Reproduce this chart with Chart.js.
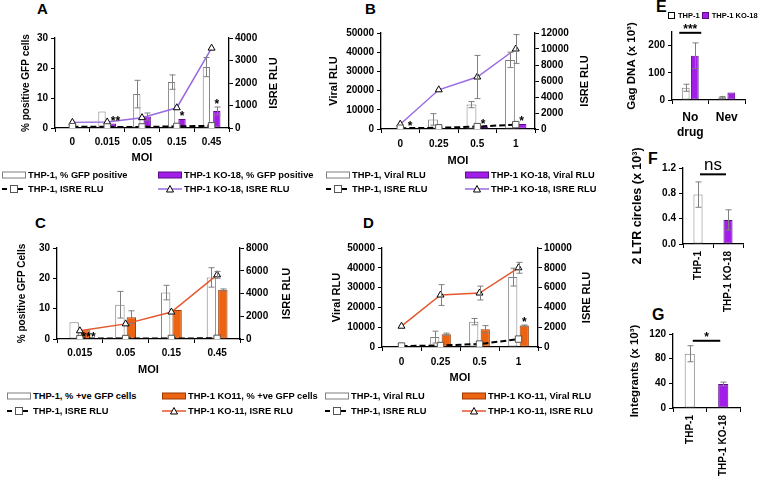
<!DOCTYPE html>
<html>
<head>
<meta charset="utf-8">
<script src="https://cdn.jsdelivr.net/npm/chart.js@4.4.1/dist/chart.umd.min.js"></script>
<style>
  body { margin: 0; background: #fff; }
  #fig { position: relative; width: 760px; height: 480px; overflow: hidden; font-family: "Liberation Sans", Arial, sans-serif; font-weight: bold; color: #000; }
  canvas { position: absolute; }
  .letter { position: absolute; font-weight: bold; font-size: 15px; line-height: 15px; }
  .leg { position: absolute; font-size: 9.3px; line-height: 12px; height: 12px; white-space: nowrap; display: flex; align-items: center; }
  .leg svg { margin-right: 2px; }
</style>
</head>
<body>
<div id="fig">
  <div class="letter" style="left:37px;top:1px">A</div>
  <div class="letter" style="left:365px;top:1px">B</div>
  <div class="letter" style="left:35px;top:215px">C</div>
  <div class="letter" style="left:363px;top:215px">D</div>
  <div class="letter" style="left:656px;top:-1px;font-size:16px">E</div>
  <div class="letter" style="left:648px;top:151px;font-size:16px">F</div>
  <div class="letter" style="left:652px;top:307px;font-size:16px">G</div>

  <canvas id="chartA" width="295" height="148" style="left:0;top:22px"></canvas>
  <canvas id="chartB" width="300" height="148" style="left:300px;top:22px"></canvas>
  <canvas id="chartC" width="300" height="150" style="left:0;top:232px"></canvas>
  <canvas id="chartD" width="300" height="160" style="left:300px;top:232px"></canvas>
  <canvas id="chartE" width="160" height="160" style="left:600px;top:0"></canvas>
  <canvas id="chartF" width="160" height="186" style="left:600px;top:135px"></canvas>
  <canvas id="chartG" width="160" height="162" style="left:600px;top:318px"></canvas>
</div>

<script>
// ---- data ----
const moiA = ['0', '0.015', '0.05', '0.15', '0.45'];
const gfpThpA = [0, 5.5, 11.3, 15.3, 20.3];
const gfpThpErrA = [0, 0, 4.6, 2.4, 3.2];
const gfpKo18A = [0, 1.5, 3.8, 3.0, 5.7];
const gfpKo18ErrA = [0, 0, 1.2, 0, 1.3];
const isreThpA = [60, 50, 50, 70, 100];
const isreKo18A = [250, 270, 460, 900, 3550];
const yTicksA = [0, 10, 20, 30];
const y1TicksA = [0, 1000, 2000, 3000, 4000];

const moiB = ['0', '0.25', '0.5', '1'];
const viralThpB = [0, 5000, 12700, 36000];
const viralThpErrB = [0, 3000, 1600, 4000];
const viralKo18B = [0, 300, 1300, 2600];
const isreThpB = [100, 150, 300, 550];
const isreKo18B = [600, 4900, 6500, 10000];
const isreKo18ErrB = [0, 0, 2700, 1800];
const yTicksB = [0, 10000, 20000, 30000, 40000, 50000];
const y1TicksB = [0, 2000, 4000, 6000, 8000, 10000, 12000];

const moiC = ['0.015', '0.05', '0.15', '0.45'];
const gfpThpC = [5.5, 11.3, 15.3, 20.3];
const gfpThpErrC = [0, 4.4, 2.4, 3.2];
const gfpKo11C = [2.9, 7.2, 9.6, 16.2];
const gfpKo11ErrC = [0, 2.1, 0, 0.3];
const isreThpC = [40, 40, 50, 60];
const isreKo11C = [720, 1330, 2370, 5640];
const isreKo11ErrC = [0, 0, 0, 300];
const yTicksC = [0, 10, 20, 30];
const y1TicksC = [0, 2000, 4000, 6000, 8000];

const moiD = ['0', '0.25', '0.5', '1'];
const viralThpD = [0, 5000, 12800, 35300];
const viralThpErrD = [0, 3000, 1600, 4500];
const viralKo11D = [0, 6500, 9000, 10800];
const viralKo11ErrD = [0, 500, 1800, 300];
const isreThpD = [100, 150, 300, 800];
const isreKo11D = [2100, 5250, 5450, 8000];
const isreKo11ErrD = [0, 1050, 700, 550];
const yTicksD = [0, 10000, 20000, 30000, 40000, 50000];
const y1TicksD = [0, 2000, 4000, 6000, 8000, 10000];

const gagCats = [['No', 'drug'], 'Nev'];
const gagThp = [45, 10];
const gagThpErr = [13, 3];
const gagKo18 = [163, 28];
const gagKo18Err = [47, 0];
const gagTicks = [0, 50, 100, 150, 200, 250];

const circleCats = ['THP-1', 'THP-1 KO-18'];
const circleVals = [0.78, 0.38];
const circleErr = [0.2, 0.16];
const circleTicks = [0, 0.2, 0.4, 0.6, 0.8, 1.0, 1.2];

const integCats = ['THP-1', 'THP-1 KO-18'];
const integVals = [88, 39];
const integErr = [13, 3];
const integTicks = [0, 20, 40, 60, 80, 100, 120];

// ---- colours ----
const PURPLE = '#a21de8';
const PURPLE_EDGE = '#5d0a8c';
const PURPLE_LINE = '#9a6be0';
const ORANGE = '#ec6312';
const ORANGE_EDGE = '#9c3a00';
const ORANGE_LINE = '#e4572e';
const GREY = '#7f7f7f';
const FONT = '"Liberation Sans", Arial, sans-serif';

Chart.defaults.font.family = FONT;
Chart.defaults.font.weight = 'bold';
Chart.defaults.font.size = 10;
Chart.defaults.color = '#000';
Chart.defaults.animation = false;
Chart.defaults.plugins.legend.display = false;
Chart.defaults.plugins.tooltip.enabled = false;

// error bars, significance marks and the right-hand axis title
const extras = {
    id: 'extras',
    afterDatasetsDraw(chart, args, opts) {
        const ctx = chart.ctx;
        ctx.save();
        ctx.strokeStyle = GREY;
        ctx.lineWidth = 1;
        chart.data.datasets.forEach((ds, di) => {
            if (!ds.errors) return;
            const meta = chart.getDatasetMeta(di);
            const ys = chart.scales[meta.yAxisID];
            meta.data.forEach((el, i) => {
                const e = ds.errors[i];
                if (!e) return;
                const x = Math.round(el.x) + 0.5;
                const yt = ys.getPixelForValue(ds.data[i] + e);
                const yb = ys.getPixelForValue(ds.data[i] - e);
                ctx.beginPath();
                ctx.moveTo(x, yt); ctx.lineTo(x, yb);
                ctx.moveTo(x - 3, yt); ctx.lineTo(x + 3, yt);
                ctx.moveTo(x - 3, yb); ctx.lineTo(x + 3, yb);
                ctx.stroke();
            });
        });

        ctx.fillStyle = '#000';
        ctx.textAlign = 'center';
        ctx.textBaseline = 'alphabetic';
        ctx.font = 'bold 12px ' + FONT;
        (opts.stars || []).forEach(s => {
            const ds = chart.data.datasets[s.ds];
            const meta = chart.getDatasetMeta(s.ds);
            const ys = chart.scales[meta.yAxisID];
            const top = ds.data[s.i] + ((ds.errors && ds.errors[s.i]) || 0);
            ctx.fillText(s.text, meta.data[s.i].x + (s.dx || 0), ys.getPixelForValue(top) + 1 + (s.dy || 0));
        });

        (opts.brackets || []).forEach(b => {
            const xs = chart.scales.x.getPixelForValue(b.i0) - b.ext;
            const xe = chart.scales.x.getPixelForValue(b.i1) + b.ext;
            const y = chart.scales.y.getPixelForValue(b.value);
            ctx.strokeStyle = '#000';
            ctx.lineWidth = 2;
            ctx.beginPath();
            ctx.moveTo(xs, y); ctx.lineTo(xe, y);
            ctx.stroke();
            ctx.font = b.font || 'bold 12px ' + FONT;
            ctx.fillText(b.text, (xs + xe) / 2, y - (b.gap || 0));
        });
        ctx.restore();
    },
    afterDraw(chart, args, opts) {
        if (!opts.rightTitle) return;
        const ctx = chart.ctx;
        const a = chart.chartArea;
        ctx.save();
        ctx.translate(opts.rightTitle.x, (a.top + a.bottom) / 2);
        ctx.rotate(-Math.PI / 2);
        ctx.font = 'bold 11px ' + FONT;
        ctx.fillStyle = '#000';
        ctx.textAlign = 'center';
        ctx.textBaseline = 'middle';
        ctx.fillText(opts.rightTitle.text, 0, 0);
        ctx.restore();
    }
};
Chart.register(extras);

function yAxis(ticks, width, titleText, titlePad, titleSize, fmt) {
    return {
        position: 'left',
        min: ticks[0],
        max: ticks[ticks.length - 1],
        ticks: { stepSize: ticks[1] - ticks[0], padding: 3, callback: fmt || (v => String(v)) },
        grid: { drawOnChartArea: false, tickLength: 4, color: '#000' },
        border: { color: '#000', width: 1.3 },
        title: { display: !!titleText, text: titleText, font: { size: titleSize || 11, weight: 'bold' }, padding: { top: titlePad, bottom: 0 } },
        afterFit: s => { s.width = width; }
    };
}

function y1Axis(ticks, width) {
    const ax = yAxis(ticks, width);
    ax.position = 'right';
    ax.ticks.padding = 2;
    return ax;
}

function xAxis(height, titleText, titlePad, labelPad, extra) {
    return Object.assign({
        ticks: { padding: labelPad },
        grid: { drawOnChartArea: false, tickLength: 4, color: '#000', offset: true },
        border: { color: '#000', width: 1.3 },
        title: { display: !!titleText, text: titleText, font: { size: 11, weight: 'bold' }, padding: { top: 0, bottom: titlePad } },
        afterFit: s => { s.height = height; }
    }, extra || {});
}

function barSet(label, data, errors, fill, edge, cp, bp) {
    return {
        label: label, data: data, errors: errors,
        backgroundColor: fill, borderColor: edge, borderWidth: 1, borderSkipped: false,
        categoryPercentage: cp, barPercentage: bp, order: 1
    };
}

function dashSet(label, data) {
    return {
        type: 'line', label: label, data: data, yAxisID: 'y1',
        borderColor: '#000', borderWidth: 2, borderDash: [6, 3], tension: 0,
        pointStyle: 'rect', pointRadius: 4.5, pointBackgroundColor: '#fff',
        pointBorderColor: '#555', pointBorderWidth: 1, order: 0
    };
}

function triSet(label, data, errors, colour) {
    return {
        type: 'line', label: label, data: data, errors: errors, yAxisID: 'y1',
        borderColor: colour, borderWidth: 1.5, tension: 0,
        pointStyle: 'triangle', pointRadius: 4, pointBackgroundColor: '#fff',
        pointBorderColor: '#000', pointBorderWidth: 1, order: 0
    };
}

// ---- A ----
new Chart(document.getElementById('chartA'), {
    type: 'bar',
    data: {
        labels: moiA,
        datasets: [
            barSet('THP-1, % GFP positive', gfpThpA, gfpThpErrA, '#fff', GREY, 0.6, 0.7),
            barSet('THP-1 KO-18, % GFP positive', gfpKo18A, gfpKo18ErrA, PURPLE, PURPLE_EDGE, 0.6, 0.7),
            dashSet('THP-1, ISRE RLU', isreThpA),
            triSet('THP-1 KO-18, ISRE RLU', isreKo18A, null, PURPLE_LINE)
        ]
    },
    options: {
        responsive: false,
        layout: { padding: { top: 16, left: 0, right: 0, bottom: 0 } },
        scales: {
            x: xAxis(42, 'MOI', 5, 4),
            y: yAxis(yTicksA, 55, '% positive GFP cells', 20, 10),
            y1: y1Axis(y1TicksA, 66)
        },
        plugins: {
            extras: {
                rightTitle: { text: 'ISRE RLU', x: 274 },
                stars: [{ ds: 1, i: 1, text: '**', dx: 3 }, { ds: 1, i: 3, text: '*' }, { ds: 1, i: 4, text: '*' }]
            }
        }
    }
});

// ---- B ----
new Chart(document.getElementById('chartB'), {
    type: 'bar',
    data: {
        labels: moiB,
        datasets: [
            barSet('THP-1, Viral RLU', viralThpB, viralThpErrB, '#fff', GREY, 0.6, 0.85),
            barSet('THP-1 KO-18, Viral RLU', viralKo18B, null, PURPLE, PURPLE_EDGE, 0.6, 0.85),
            dashSet('THP-1, ISRE RLU', isreThpB),
            triSet('THP-1 KO-18, ISRE RLU', isreKo18B, isreKo18ErrB, PURPLE_LINE)
        ]
    },
    options: {
        responsive: false,
        layout: { padding: { top: 11, left: 0, right: 0, bottom: 0 } },
        scales: {
            x: xAxis(41, 'MOI', 2, 5),
            y: yAxis(yTicksB, 81, 'Viral RLU', 27),
            y1: y1Axis(y1TicksB, 65)
        },
        plugins: {
            extras: {
                rightTitle: { text: 'ISRE RLU', x: 285 },
                stars: [{ ds: 1, i: 0, text: '*', dx: 4 }, { ds: 1, i: 2, text: '*' }, { ds: 1, i: 3, text: '*' }]
            }
        }
    }
});

// ---- C ----
new Chart(document.getElementById('chartC'), {
    type: 'bar',
    data: {
        labels: moiC,
        datasets: [
            barSet('THP-1, % +ve GFP cells', gfpThpC, gfpThpErrC, '#fff', GREY, 0.5, 0.82),
            barSet('THP-1 KO11, % +ve GFP cells', gfpKo11C, gfpKo11ErrC, ORANGE, ORANGE_EDGE, 0.5, 0.82),
            dashSet('THP-1, ISRE RLU', isreThpC),
            triSet('THP-1 KO-11, ISRE RLU', isreKo11C, isreKo11ErrC, ORANGE_LINE)
        ]
    },
    options: {
        responsive: false,
        layout: { padding: { top: 16, left: 0, right: 0, bottom: 0 } },
        scales: {
            x: xAxis(43, 'MOI', 5, 4),
            y: yAxis(yTicksC, 57, '% positive GFP Cells', 16, 10),
            y1: y1Axis(y1TicksC, 60)
        },
        plugins: {
            extras: {
                rightTitle: { text: 'ISRE RLU', x: 287 },
                stars: [{ ds: 1, i: 0, text: '***', dx: 3, dy: 10 }]
            }
        }
    }
});

// ---- D ----
new Chart(document.getElementById('chartD'), {
    type: 'bar',
    data: {
        labels: moiD,
        datasets: [
            barSet('THP-1, Viral RLU', viralThpD, viralThpErrD, '#fff', GREY, 0.59, 0.8),
            barSet('THP-1 KO-11, Viral RLU', viralKo11D, viralKo11ErrD, ORANGE, ORANGE_EDGE, 0.59, 0.8),
            dashSet('THP-1, ISRE RLU', isreThpD),
            triSet('THP-1 KO-11, ISRE RLU', isreKo11D, isreKo11ErrD, ORANGE_LINE)
        ]
    },
    options: {
        responsive: false,
        layout: { padding: { top: 16, left: 0, right: 0, bottom: 0 } },
        scales: {
            x: xAxis(45, 'MOI', 7, 5),
            y: yAxis(yTicksD, 82, 'Viral RLU', 30),
            y1: y1Axis(y1TicksD, 62)
        },
        plugins: {
            extras: {
                rightTitle: { text: 'ISRE RLU', x: 287 },
                stars: [{ ds: 1, i: 3, text: '*' }]
            }
        }
    }
});

// ---- E ----
new Chart(document.getElementById('chartE'), {
    type: 'bar',
    data: {
        labels: gagCats,
        datasets: [
            barSet('THP-1', gagThp, gagThpErr, '#fff', GREY, 0.5, 0.85),
            barSet('THP-1 KO-18', gagKo18, gagKo18Err, PURPLE, PURPLE_EDGE, 0.5, 0.85)
        ]
    },
    options: {
        responsive: false,
        layout: { padding: { top: 32, left: 0, right: 15, bottom: 0 } },
        scales: {
            x: xAxis(60, '', 0, 6, { ticks: { padding: 6, font: { size: 12, weight: 'bold', lineHeight: 1.25 } } }),
            y: yAxis(gagTicks, 72, 'Gag DNA (x 10³)', 25, 11.5)
        },
        plugins: {
            extras: {
                brackets: [{ i0: 0, i1: 0, value: 247, text: '***', ext: 11, gap: 0 }]
            }
        }
    }
});

// ---- F ----
new Chart(document.getElementById('chartF'), {
    type: 'bar',
    data: {
        labels: circleCats,
        datasets: [{
            label: '2 LTR circles', data: circleVals, errors: circleErr,
            backgroundColor: ['#fff', PURPLE], borderColor: [GREY, PURPLE_EDGE], borderWidth: 1, borderSkipped: false,
            categoryPercentage: 0.55, barPercentage: 0.55
        }]
    },
    options: {
        responsive: false,
        layout: { padding: { top: 33, left: 0, right: 17, bottom: 0 } },
        scales: {
            x: xAxis(77, '', 0, 3, { ticks: { padding: 3, minRotation: 90, maxRotation: 90 } }),
            y: yAxis(circleTicks, 83, '2 LTR circles (x 10³)', 30, 12.5, v => v.toFixed(1))
        },
        plugins: {
            extras: {
                brackets: [{ i0: 0, i1: 1, value: 1.1, text: 'ns', ext: -2, gap: 4, font: '17px ' + FONT }]
            }
        }
    }
});

// ---- G ----
new Chart(document.getElementById('chartG'), {
    type: 'bar',
    data: {
        labels: integCats,
        datasets: [{
            label: 'Integrants', data: integVals, errors: integErr,
            backgroundColor: ['#fff', PURPLE], borderColor: [GREY, PURPLE_EDGE], borderWidth: 1, borderSkipped: false,
            categoryPercentage: 0.55, barPercentage: 0.55
        }]
    },
    options: {
        responsive: false,
        layout: { padding: { top: 16, left: 0, right: 20, bottom: 0 } },
        scales: {
            x: xAxis(72, '', 0, 3, { ticks: { padding: 3, minRotation: 90, maxRotation: 90 } }),
            y: yAxis(integTicks, 73, 'Integrants (x 10³)', 28, 11.5)
        },
        plugins: {
            extras: {
                brackets: [{ i0: 0, i1: 1, value: 109, text: '*', ext: -3, gap: 0 }]
            }
        }
    }
});

// ---- HTML legends ----
function swatch(kind, colour, edge) {
    if (kind === 'bar') {
        return '<svg width="24" height="8"><rect x="0.5" y="1" width="23" height="6" fill="' + colour + '" stroke="' + edge + '"/></svg>';
    }
    if (kind === 'dash') {
        return '<svg width="24" height="10"><line x1="0" y1="5" x2="24" y2="5" stroke="#000" stroke-width="2" stroke-dasharray="5,3"/>' +
            '<rect x="8.5" y="1.5" width="7" height="7" fill="#fff" stroke="#555"/></svg>';
    }
    return '<svg width="24" height="10"><line x1="0" y1="5" x2="24" y2="5" stroke="' + colour + '" stroke-width="1.5"/>' +
        '<polygon points="12,1.5 15.5,8 8.5,8" fill="#fff" stroke="#000"/></svg>';
}

function legendItem(x, yMid, kind, colour, edge, text) {
    const d = document.createElement('div');
    d.className = 'leg';
    d.style.left = x + 'px';
    d.style.top = (yMid - 6) + 'px';
    d.innerHTML = swatch(kind, colour, edge) + '<span>' + text + '</span>';
    document.getElementById('fig').appendChild(d);
}

legendItem(2, 175, 'bar', '#fff', GREY, 'THP-1, % GFP positive');
legendItem(158, 175, 'bar', PURPLE, PURPLE_EDGE, 'THP-1 KO-18, % GFP positive');
legendItem(2, 189, 'dash', '#000', '', 'THP-1, ISRE RLU');
legendItem(158, 189, 'tri', PURPLE_LINE, '', 'THP-1 KO-18, ISRE RLU');
legendItem(326, 175, 'bar', '#fff', GREY, 'THP-1, Viral RLU');
legendItem(465, 175, 'bar', PURPLE, PURPLE_EDGE, 'THP-1 KO-18, Viral RLU');
legendItem(326, 189, 'dash', '#000', '', 'THP-1, ISRE RLU');
legendItem(465, 189, 'tri', PURPLE_LINE, '', 'THP-1 KO-18, ISRE RLU');

legendItem(7, 396, 'bar', '#fff', GREY, 'THP-1, % +ve GFP cells');
legendItem(162, 396, 'bar', ORANGE, ORANGE_EDGE, 'THP-1 KO11, % +ve GFP cells');
legendItem(7, 411, 'dash', '#000', '', 'THP-1, ISRE RLU');
legendItem(162, 411, 'tri', ORANGE_LINE, '', 'THP-1 KO-11, ISRE RLU');
legendItem(325, 396, 'bar', '#fff', GREY, 'THP-1, Viral RLU');
legendItem(462, 396, 'bar', ORANGE, ORANGE_EDGE, 'THP-1 KO-11, Viral RLU');
legendItem(325, 411, 'dash', '#000', '', 'THP-1, ISRE RLU');
legendItem(462, 411, 'tri', ORANGE_LINE, '', 'THP-1 KO-11, ISRE RLU');

// small legend of panel E
const legE = document.createElement('div');
legE.className = 'leg';
legE.style.left = '668px';
legE.style.top = '10px';
legE.style.fontSize = '7.5px';
legE.innerHTML = '<svg width="8" height="8"><rect x="0.5" y="0.5" width="6" height="6" fill="#fff" stroke="#000"/></svg>THP-1&nbsp;' +
    '<svg width="8" height="8"><rect x="0.5" y="0.5" width="6" height="6" fill="' + PURPLE + '" stroke="' + PURPLE_EDGE + '"/></svg>THP-1 KO-18';
document.getElementById('fig').appendChild(legE);
</script>
</body>
</html>
